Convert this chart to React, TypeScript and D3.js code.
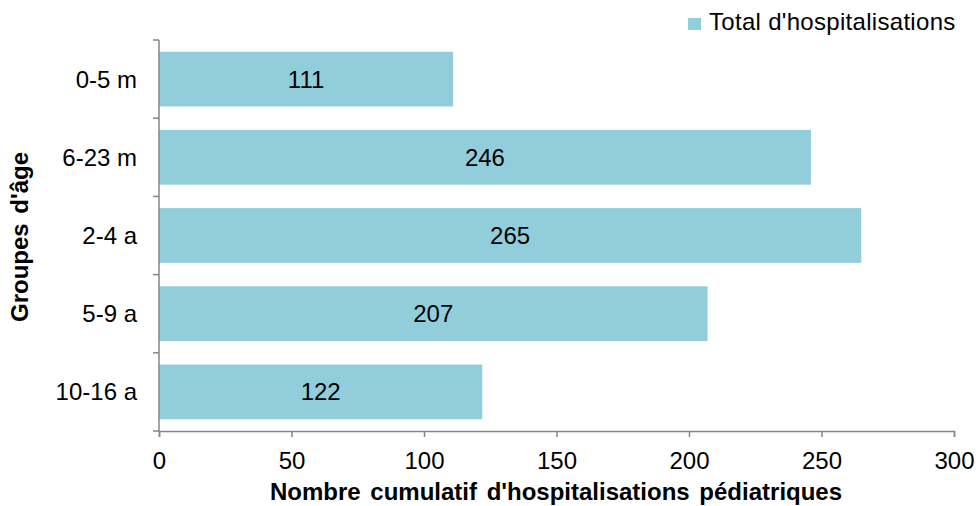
import React, { useRef, useEffect } from "react";
import * as d3 from "d3";

const categories = ["0-5 m", "6-23 m", "2-4 a", "5-9 a", "10-16 a"];
const hospitalisations = [111, 246, 265, 207, 122];
const xTicks = [0, 50, 100, 150, 200, 250, 300];
const seriesName = "Total d'hospitalisations";

const W = 976;
const H = 506;
const margin = { top: 40, right: 22, bottom: 75, left: 159 };
const barColor = "#92CDDC";
const axisColor = "#868686";
const font = "'Liberation Sans', Arial, sans-serif";
const fontSize = 24;

const App: React.FC = () => {
  const svgRef = useRef<SVGSVGElement>(null);

  useEffect(() => {
    if (!svgRef.current) return;
    const svg = d3.select(svgRef.current);
    svg.selectAll("*").remove();

    const innerW = W - margin.left - margin.right;
    const innerH = H - margin.top - margin.bottom;

    const x = d3.scaleLinear().domain([0, 300]).range([0, innerW]);
    const y = d3
      .scaleBand<string>()
      .domain(categories)
      .range([0, innerH])
      .paddingInner(0.3)
      .paddingOuter(0.15);

    const g = svg
      .append("g")
      .attr("transform", `translate(${margin.left},${margin.top})`);

    // bars
    g.selectAll("rect.bar")
      .data(hospitalisations)
      .enter()
      .append("rect")
      .attr("class", "bar")
      .attr("x", 0)
      .attr("y", (_d, i) => y(categories[i]) as number)
      .attr("width", (d) => x(d))
      .attr("height", y.bandwidth())
      .attr("fill", barColor);

    // value labels
    g.selectAll("text.val")
      .data(hospitalisations)
      .enter()
      .append("text")
      .attr("class", "val")
      .attr("x", (d) => x(d) / 2)
      .attr("y", (_d, i) => (y(categories[i]) as number) + y.bandwidth() / 2)
      .attr("dy", "0.35em")
      .attr("text-anchor", "middle")
      .attr("font-family", font)
      .attr("font-size", fontSize)
      .attr("fill", "#000")
      .text((d) => d);

    // x axis
    const xAxis = g
      .append("g")
      .attr("transform", `translate(0,${innerH})`)
      .call(d3.axisBottom(x).tickValues(xTicks).tickSize(6).tickSizeOuter(6));
    xAxis.select(".domain").attr("stroke", axisColor).attr("stroke-width", 1.5);
    xAxis.selectAll(".tick line").attr("stroke", axisColor).attr("stroke-width", 1.5);
    xAxis
      .selectAll(".tick text")
      .attr("font-family", font)
      .attr("font-size", fontSize)
      .attr("fill", "#000")
      .attr("dy", "0")
      .attr("y", 38);

    // y axis with ticks on band boundaries
    g.append("line")
      .attr("x1", 0)
      .attr("x2", 0)
      .attr("y1", 0)
      .attr("y2", innerH)
      .attr("stroke", axisColor)
      .attr("stroke-width", 1.5);
    const step = innerH / categories.length;
    g.selectAll("line.ytick")
      .data(d3.range(categories.length + 1))
      .enter()
      .append("line")
      .attr("class", "ytick")
      .attr("x1", -6)
      .attr("x2", 0)
      .attr("y1", (d) => d * step)
      .attr("y2", (d) => d * step)
      .attr("stroke", axisColor)
      .attr("stroke-width", 1.5);
    g.selectAll("text.ylab")
      .data(categories)
      .enter()
      .append("text")
      .attr("class", "ylab")
      .attr("x", -22)
      .attr("y", (d) => (y(d) as number) + y.bandwidth() / 2)
      .attr("dy", "0.35em")
      .attr("text-anchor", "end")
      .attr("font-family", font)
      .attr("font-size", fontSize)
      .attr("fill", "#000")
      .text((d) => d);

    // axis titles
    svg
      .append("text")
      .attr("x", 556)
      .attr("y", 500)
      .attr("text-anchor", "middle")
      .attr("font-family", font)
      .attr("font-size", fontSize)
      .attr("font-weight", "bold")
      .attr("word-spacing", 3)
      .text("Nombre cumulatif d'hospitalisations pédiatriques");

    svg
      .append("text")
      .attr("transform", "translate(28,237) rotate(-90)")
      .attr("text-anchor", "middle")
      .attr("font-family", font)
      .attr("font-size", fontSize)
      .attr("font-weight", "bold")
      .attr("word-spacing", 3)
      .text("Groupes d'âge");

    // legend
    svg
      .append("rect")
      .attr("x", 688)
      .attr("y", 18)
      .attr("width", 13)
      .attr("height", 12)
      .attr("fill", barColor);
    svg
      .append("text")
      .attr("x", 709)
      .attr("y", 30)
      .attr("font-family", font)
      .attr("font-size", fontSize)
      .attr("letter-spacing", 0.3)
      .attr("fill", "#000")
      .text(seriesName);
  }, []);

  return (
    <svg
      ref={svgRef}
      width={W}
      height={H}
      style={{ position: "absolute", left: 0, top: 0, background: "#fff" }}
    />
  );
};

export default App;
